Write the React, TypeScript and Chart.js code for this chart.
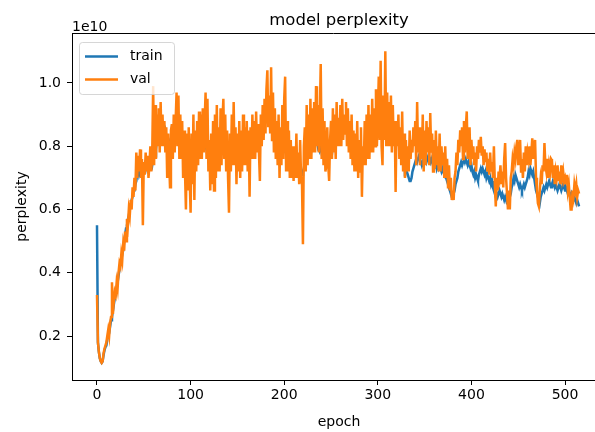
import React, { useEffect, useRef } from "react";
import { Chart, registerables } from "chart.js";

Chart.register(...registerables);

// perplexity values in units of 1e10, one value per epoch (0..515)
const trainValues = [
  0.55, 0.18, 0.15, 0.13, 0.12, 0.115, 0.12, 0.14, 0.155, 0.165,
  0.17, 0.19, 0.2, 0.21, 0.23, 0.25, 0.26, 0.28, 0.3, 0.32,
  0.33, 0.35, 0.37, 0.39, 0.41, 0.43, 0.44, 0.46, 0.47, 0.5,
  0.52, 0.54, 0.55, 0.57, 0.58, 0.6, 0.61, 0.63, 0.64, 0.66,
  0.66, 0.68, 0.69, 0.72, 0.73, 0.71, 0.72, 0.74, 0.73, 0.71,
  0.72, 0.74, 0.73, 0.75, 0.73, 0.72, 0.74, 0.76, 0.75, 0.74,
  0.76, 0.78, 0.8, 0.79, 0.83, 0.85, 0.84, 0.86, 0.87, 0.85,
  0.87, 0.86, 0.84, 0.85, 0.83, 0.81, 0.8, 0.81, 0.79, 0.81,
  0.82, 0.8, 0.83, 0.84, 0.82, 0.83, 0.85, 0.83, 0.81, 0.82,
  0.8, 0.82, 0.81, 0.79, 0.8, 0.82, 0.81, 0.79, 0.8, 0.78,
  0.8, 0.79, 0.77, 0.78, 0.8, 0.78, 0.77, 0.79, 0.8, 0.81,
  0.8, 0.82, 0.81, 0.83, 0.82, 0.8, 0.81, 0.79, 0.77, 0.76,
  0.75, 0.73, 0.72, 0.71, 0.7, 0.72, 0.73, 0.74, 0.76, 0.75,
  0.77, 0.78, 0.77, 0.79, 0.8, 0.79, 0.81, 0.8, 0.79, 0.78,
  0.8, 0.79, 0.77, 0.78, 0.8, 0.79, 0.78, 0.8, 0.79, 0.77,
  0.78, 0.77, 0.76, 0.78, 0.77, 0.76, 0.77, 0.79, 0.8, 0.79,
  0.8, 0.82, 0.81, 0.8, 0.82, 0.83, 0.82, 0.84, 0.83, 0.82,
  0.84, 0.85, 0.84, 0.83, 0.84, 0.86, 0.85, 0.87, 0.88, 0.87,
  0.88, 0.9, 0.91, 0.91, 0.89, 0.88, 0.87, 0.86, 0.85, 0.84,
  0.84, 0.83, 0.82, 0.83, 0.82, 0.81, 0.82, 0.8, 0.81, 0.8,
  0.79, 0.8, 0.78, 0.79, 0.77, 0.78, 0.76, 0.77, 0.75, 0.76,
  0.74, 0.75, 0.76, 0.74, 0.73, 0.74, 0.72, 0.73, 0.72, 0.71,
  0.72, 0.73, 0.75, 0.74, 0.76, 0.77, 0.79, 0.78, 0.8, 0.79,
  0.81, 0.8, 0.82, 0.81, 0.83, 0.82, 0.8, 0.81, 0.79, 0.8,
  0.78, 0.79, 0.77, 0.76, 0.76, 0.77, 0.78, 0.79, 0.78, 0.8,
  0.81, 0.8, 0.82, 0.81, 0.83, 0.82, 0.84, 0.83, 0.85, 0.84,
  0.85, 0.84, 0.86, 0.85, 0.86, 0.87, 0.86, 0.85, 0.84, 0.83,
  0.82, 0.81, 0.8, 0.79, 0.78, 0.77, 0.76, 0.75, 0.76, 0.75,
  0.75, 0.76, 0.75, 0.76, 0.77, 0.78, 0.77, 0.79, 0.8, 0.79,
  0.8, 0.81, 0.82, 0.81, 0.83, 0.82, 0.84, 0.83, 0.85, 0.84,
  0.85, 0.84, 0.86, 0.85, 0.84, 0.85, 0.86, 0.85, 0.84, 0.83,
  0.84, 0.83, 0.82, 0.83, 0.82, 0.81, 0.82, 0.83, 0.84, 0.85,
  0.86, 0.84, 0.82, 0.8, 0.79, 0.77, 0.76, 0.75, 0.74, 0.73,
  0.74, 0.72, 0.71, 0.7, 0.69, 0.69, 0.7, 0.72, 0.73, 0.74,
  0.75, 0.76, 0.75, 0.76, 0.77, 0.76, 0.75, 0.74, 0.75, 0.74,
  0.75, 0.76, 0.75, 0.76, 0.77, 0.76, 0.75, 0.76, 0.75, 0.74,
  0.75, 0.74, 0.75, 0.73, 0.74, 0.73, 0.74, 0.73, 0.72, 0.73,
  0.72, 0.71, 0.72, 0.7, 0.69, 0.68, 0.67, 0.66, 0.65, 0.64,
  0.64, 0.65, 0.66, 0.68, 0.69, 0.7, 0.72, 0.73, 0.74, 0.75,
  0.74, 0.75, 0.76, 0.75, 0.76, 0.75, 0.74, 0.75, 0.74, 0.73,
  0.74, 0.72, 0.71, 0.72, 0.7, 0.71, 0.7, 0.69, 0.71, 0.72,
  0.73, 0.72, 0.73, 0.72, 0.71, 0.72, 0.7, 0.71, 0.7, 0.69,
  0.7, 0.68, 0.69, 0.67, 0.66, 0.65, 0.64, 0.65, 0.64, 0.65,
  0.66, 0.65, 0.64, 0.65, 0.64, 0.63, 0.64, 0.63, 0.62, 0.63,
  0.62, 0.64, 0.65, 0.67, 0.68, 0.7, 0.69, 0.71, 0.7, 0.69,
  0.68, 0.67, 0.68, 0.67, 0.66, 0.67, 0.68, 0.67, 0.68, 0.69,
  0.7, 0.72, 0.71, 0.73, 0.72, 0.71, 0.72, 0.7, 0.68, 0.66,
  0.65, 0.64, 0.63, 0.62, 0.64, 0.65, 0.66, 0.67, 0.66, 0.67,
  0.68, 0.67, 0.68, 0.69, 0.68, 0.67, 0.68, 0.69, 0.68, 0.67,
  0.68, 0.67, 0.66, 0.67, 0.68, 0.67, 0.66, 0.67, 0.68, 0.67,
  0.66, 0.67, 0.66, 0.65, 0.66, 0.65, 0.64, 0.65, 0.64, 0.63,
  0.64, 0.63, 0.62, 0.63, 0.62, 0.61,
];

const valValues = [
  0.33, 0.18, 0.15, 0.13, 0.12, 0.115, 0.12, 0.145, 0.16, 0.17,
  0.18, 0.2, 0.22, 0.2, 0.24, 0.26, 0.37, 0.27, 0.31, 0.34,
  0.33, 0.37, 0.35, 0.4, 0.43, 0.42, 0.46, 0.44, 0.49, 0.47,
  0.53, 0.5, 0.57, 0.55, 0.6, 0.58, 0.63, 0.6, 0.67, 0.64,
  0.7, 0.66, 0.78, 0.7, 0.77, 0.72, 0.79, 0.7, 0.76, 0.55,
  0.75, 0.71, 0.78, 0.72, 0.77, 0.7, 0.74, 0.8, 0.72, 0.78,
  0.99, 0.74, 0.93, 0.76, 0.9, 0.8, 0.92, 0.78, 0.94, 0.8,
  0.9, 0.8, 0.88, 0.78, 0.86, 0.7, 0.84, 0.76, 0.67, 0.85,
  0.87, 0.76, 0.9, 0.78, 0.88, 0.97, 0.8, 0.96, 0.76, 0.9,
  0.76, 0.88, 0.7, 0.85, 0.72, 0.6, 0.84, 0.66, 0.86, 0.7,
  0.59, 0.84, 0.68, 0.9, 0.63, 0.85, 0.72, 0.88, 0.74, 0.91,
  0.76, 0.9, 0.76, 0.92, 0.78, 0.88, 0.97, 0.76, 0.95, 0.72,
  0.82, 0.66, 0.84, 0.68, 0.88, 0.66, 0.9, 0.7, 0.93, 0.72,
  0.86, 0.72, 0.92, 0.74, 0.88, 0.95, 0.76, 0.9, 0.72, 0.85,
  0.7, 0.59, 0.84, 0.72, 0.9, 0.74, 0.94, 0.74, 0.86, 0.68,
  0.84, 0.72, 0.88, 0.7, 0.85, 0.72, 0.9, 0.74, 0.86, 0.74,
  0.88, 0.72, 0.85, 0.64, 0.86, 0.76, 0.9, 0.76, 0.88, 0.76,
  0.91, 0.78, 0.87, 0.78, 0.69, 0.9, 0.8, 0.93, 0.82, 0.95,
  0.84, 0.98, 1.04, 0.86, 0.96, 0.84, 1.05, 0.82, 0.97, 0.78,
  0.92, 0.76, 0.88, 0.74, 0.9, 0.7, 0.86, 0.74, 0.93, 0.76,
  0.95, 1.02, 0.72, 0.88, 0.72, 0.85, 0.7, 0.82, 0.7, 0.8,
  0.69, 0.8, 0.7, 0.84, 0.7, 0.78, 0.68, 0.82, 0.7, 0.68,
  0.49, 0.8, 0.86, 0.72, 0.93, 0.74, 0.9, 0.76, 0.95, 0.76,
  0.92, 0.78, 0.94, 0.78, 0.99, 0.8, 0.93, 0.78, 0.9, 1.06,
  0.76, 0.92, 0.74, 0.88, 0.72, 0.74, 0.86, 0.74, 0.69, 0.82,
  0.88, 0.76, 0.92, 0.78, 0.9, 0.76, 0.94, 0.8, 0.89, 0.8,
  0.93, 0.8, 0.95, 0.82, 0.9, 0.84, 0.94, 0.8, 0.92, 0.78,
  0.88, 0.76, 0.9, 0.74, 0.85, 0.72, 0.84, 0.72, 0.88, 0.7,
  0.82, 0.72, 0.86, 0.64, 0.8, 0.74, 0.88, 0.74, 0.9, 0.76,
  0.93, 0.76, 0.9, 0.78, 0.95, 0.78, 0.92, 0.8, 0.98, 0.8,
  0.9, 1.02, 0.82, 1.07, 0.8, 0.74, 0.96, 0.82, 1.1, 0.8,
  0.97, 0.8, 0.94, 0.8, 0.96, 0.78, 0.93, 0.8, 0.88, 0.655,
  0.88, 0.8, 0.9, 0.76, 0.86, 0.74, 0.91, 0.72, 0.84, 0.7,
  0.82, 0.72, 0.8, 0.72, 0.85, 0.76, 0.82, 0.78, 0.86, 0.8,
  0.88, 0.74, 0.94, 0.78, 0.86, 0.74, 0.84, 0.76, 0.9, 0.72,
  0.85, 0.74, 0.88, 0.78, 0.86, 0.74, 0.905, 0.78, 0.84, 0.72,
  0.82, 0.73, 0.85, 0.74, 0.8, 0.72, 0.84, 0.72, 0.8, 0.74,
  0.78, 0.7, 0.8, 0.7, 0.76, 0.67, 0.74, 0.66, 0.7, 0.63,
  0.66, 0.63, 0.7, 0.72, 0.78, 0.74, 0.82, 0.78, 0.85, 0.8,
  0.86, 0.76, 0.88, 0.78, 0.86, 0.91, 0.76, 0.82, 0.86, 0.74,
  0.82, 0.76, 0.8, 0.74, 0.78, 0.72, 0.8, 0.76, 0.82, 0.78,
  0.83, 0.77, 0.8, 0.74, 0.79, 0.75, 0.78, 0.72, 0.76, 0.71,
  0.78, 0.72, 0.75, 0.7, 0.8, 0.68, 0.61, 0.7, 0.66, 0.72,
  0.7, 0.74, 0.68, 0.72, 0.67, 0.76, 0.81, 0.7, 0.65, 0.6,
  0.66, 0.6, 0.7, 0.72, 0.76, 0.74, 0.78, 0.76, 0.8, 0.82,
  0.74, 0.78, 0.82, 0.72, 0.76, 0.7, 0.78, 0.72, 0.8, 0.74,
  0.78, 0.76, 0.8, 0.74, 0.78, 0.825, 0.76, 0.8, 0.82, 0.7,
  0.66, 0.62, 0.61, 0.66, 0.7, 0.68, 0.74, 0.72, 0.81, 0.74,
  0.72, 0.76, 0.7, 0.74, 0.72, 0.76, 0.755, 0.7, 0.74, 0.68,
  0.72, 0.7, 0.74, 0.69, 0.72, 0.68, 0.74, 0.7, 0.72, 0.69,
  0.7, 0.68, 0.71, 0.66, 0.68, 0.64, 0.6, 0.6, 0.66, 0.64,
  0.68, 0.66, 0.68, 0.64, 0.66, 0.65,
];

const seriesLabels = ["train", "val"];
const seriesColors = ["#1f77b4", "#ff7f0e"];
const xTickValues = [0, 100, 200, 300, 400, 500];
const yTickValues = [0.2, 0.4, 0.6, 0.8, 1.0];
const titleText = "model perplexity";
const xAxisLabel = "epoch";
const yAxisLabel = "perplexity";
const offsetText = "1e10";

const FONT = "'DejaVu Sans', sans-serif";

export default function App() {
  const canvasRef = useRef<HTMLCanvasElement | null>(null);

  useEffect(() => {
    const canvas = canvasRef.current;
    if (!canvas) return;

    const decorPlugin = {
      id: "mplDecor",
      afterDatasetsDraw(chart: any) {
        const { ctx, chartArea } = chart;
        ctx.save();
        // top spine
        ctx.strokeStyle = "#000";
        ctx.lineWidth = 1;
        ctx.beginPath();
        ctx.moveTo(chartArea.left, chartArea.top + 0.5);
        ctx.lineTo(chartArea.right, chartArea.top + 0.5);
        ctx.stroke();

        // legend box
        const bx = 79.5, by = 42.5, bw = 95, bh = 52;
        ctx.beginPath();
        (ctx as any).roundRect(bx, by, bw, bh, 3);
        ctx.fillStyle = "rgba(255,255,255,0.8)";
        ctx.fill();
        ctx.strokeStyle = "rgba(204,204,204,0.8)";
        ctx.lineWidth = 1;
        ctx.stroke();

        ctx.font = `14px ${FONT}`;
        ctx.textBaseline = "middle";
        ctx.textAlign = "left";
        seriesLabels.forEach((lab, i) => {
          const ly = 56.5 + i * 23;
          ctx.strokeStyle = seriesColors[i];
          ctx.lineWidth = 2.5;
          ctx.beginPath();
          ctx.moveTo(85, ly);
          ctx.lineTo(118, ly);
          ctx.stroke();
          ctx.fillStyle = "#000";
          ctx.fillText(lab, 130, ly);
        });
        ctx.restore();
      },
      afterDraw(chart: any) {
        const { ctx, chartArea } = chart;
        ctx.save();
        ctx.fillStyle = "#000";
        // title
        ctx.font = `16.5px ${FONT}`;
        ctx.textAlign = "center";
        ctx.textBaseline = "alphabetic";
        ctx.fillText(titleText, 339, 25);
        // offset text
        ctx.font = `14px ${FONT}`;
        ctx.textAlign = "left";
        ctx.fillText(offsetText, chartArea.left, 31);
        // x label
        ctx.textAlign = "center";
        ctx.fillText(xAxisLabel, 339, 426);
        // y label
        ctx.translate(26, (chartArea.top + chartArea.bottom) / 2);
        ctx.rotate(-Math.PI / 2);
        ctx.fillText(yAxisLabel, 0, 0);
        ctx.restore();
      },
    };

    const chart = new Chart(canvas, {
      type: "line",
      data: {
        datasets: [
          {
            label: seriesLabels[0],
            data: trainValues.map((v, i) => ({ x: i, y: v })),
            borderColor: seriesColors[0],
            backgroundColor: seriesColors[0],
            borderWidth: 2.5,
            pointRadius: 0,
            tension: 0,
            order: 1,
          },
          {
            label: seriesLabels[1],
            data: valValues.map((v, i) => ({ x: i, y: v })),
            borderColor: seriesColors[1],
            backgroundColor: seriesColors[1],
            borderWidth: 2.5,
            pointRadius: 0,
            tension: 0,
            order: 0,
          },
        ],
      },
      options: {
        responsive: false,
        animation: false,
        devicePixelRatio: 1,
        layout: { padding: { top: 33, left: 0, right: 0, bottom: 0 } },
        plugins: {
          legend: { display: false },
          tooltip: { enabled: false },
          title: { display: false },
        },
        scales: {
          x: {
            type: "linear",
            min: -26.7,
            max: 532,
            afterFit: (s: any) => {
              s.height = 52;
            },
            afterBuildTicks: (s: any) => {
              s.ticks = xTickValues.map((v) => ({ value: v }));
            },
            ticks: {
              font: { family: FONT, size: 14 },
              color: "#000",
              padding: 2,
              maxRotation: 0,
              autoSkip: false,
              callback: (v: any) => String(v),
            },
            grid: {
              drawOnChartArea: false,
              drawTicks: true,
              tickLength: 5,
              color: "#000",
              lineWidth: 1,
            },
            border: { display: true, color: "#000", width: 1 },
          },
          y: {
            type: "linear",
            min: 0.061,
            max: 1.158,
            afterFit: (s: any) => {
              s.width = 72;
            },
            afterBuildTicks: (s: any) => {
              s.ticks = yTickValues.map((v) => ({ value: v }));
            },
            ticks: {
              font: { family: FONT, size: 14 },
              color: "#000",
              padding: 6,
              autoSkip: false,
              callback: (v: any) => Number(v).toFixed(1),
            },
            grid: {
              drawOnChartArea: false,
              drawTicks: true,
              tickLength: 5,
              color: "#000",
              lineWidth: 1,
            },
            border: { display: true, color: "#000", width: 1 },
          },
        },
      },
      plugins: [decorPlugin],
    } as any);

    return () => {
      chart.destroy();
    };
  }, []);

  return (
    <canvas
      ref={canvasRef}
      width={595}
      height={432}
      style={{ position: "fixed", left: 0, top: 0, width: 595, height: 432, background: "#fff" }}
    />
  );
}
